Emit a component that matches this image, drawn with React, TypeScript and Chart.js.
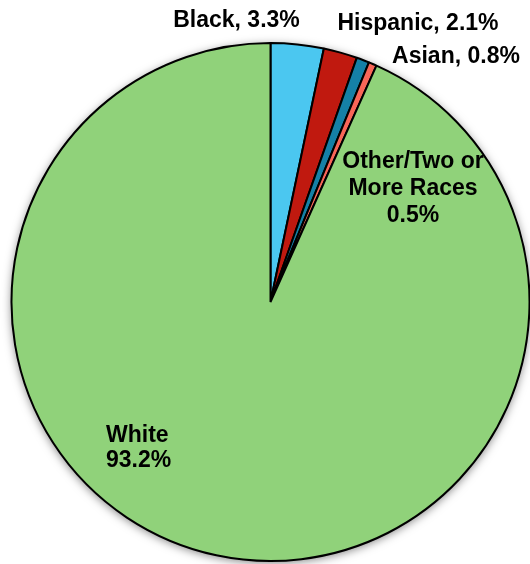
import React, { useEffect, useRef } from "react";
import { Chart, registerables } from "chart.js";

Chart.register(...registerables);

const categories = ["Black", "Hispanic", "Asian", "Other/Two or More Races", "White"];
const values = [3.3, 2.1, 0.8, 0.5, 93.2];
const labelLines = [
  ["Black, 3.3%"],
  ["Hispanic, 2.1%"],
  ["Asian, 0.8%"],
  ["Other/Two or", "More Races", "0.5%"],
  ["White", "93.2%"],
];
const colors = ["#4BC7F0", "#C0190F", "#1580A6", "#F86658", "#90D27A"];

// label placement relative to pie centre (layout only)
const labelPlacement = [
  { dx: -34, dy: -275, align: "center", lh: 27 },
  { dx: 147.5, dy: -272, align: "center", lh: 27 },
  { dx: 185.5, dy: -238.7, align: "center", lh: 27 },
  { dx: 142.5, dy: -134, align: "center", lh: 27 },
  { dx: -164.5, dy: 140, align: "left", lh: 25 },
];

const shadowPlugin = {
  id: "pieShadow",
  beforeDatasetsDraw(chart: any) {
    const meta = chart.getDatasetMeta(0);
    const arc = meta.data[0];
    if (!arc) return;
    const ctx = chart.ctx;
    ctx.save();
    ctx.beginPath();
    ctx.arc(arc.x, arc.y, arc.outerRadius, 0, Math.PI * 2);
    ctx.fillStyle = "#ffffff";
    ctx.shadowColor = "rgba(0,0,0,0.5)";
    ctx.shadowBlur = 10;
    ctx.shadowOffsetX = 0;
    ctx.shadowOffsetY = 2;
    ctx.fill();
    ctx.restore();
  },
};

const labelPlugin = {
  id: "pieLabels",
  afterDatasetsDraw(chart: any) {
    const meta = chart.getDatasetMeta(0);
    const arc = meta.data[0];
    if (!arc) return;
    const cx = arc.x;
    const cy = arc.y;
    const ctx = chart.ctx;
    ctx.save();
    ctx.fillStyle = "#000000";
    ctx.font = 'bold 23px "Liberation Sans", Arial, sans-serif';
    ctx.textBaseline = "alphabetic";
    labelLines.forEach((lines, i) => {
      const p = labelPlacement[i];
      ctx.textAlign = p.align;
      lines.forEach((line, j) => {
        ctx.fillText(line, cx + p.dx, cy + p.dy + j * p.lh);
      });
    });
    ctx.restore();
  },
};

export default function App() {
  const ref = useRef<HTMLCanvasElement | null>(null);

  useEffect(() => {
    if (!ref.current) return;
    const chart = new Chart(ref.current, {
      type: "pie",
      data: {
        labels: categories,
        datasets: [
          {
            data: values,
            backgroundColor: colors,
            borderColor: "#000000",
            borderWidth: 2,
            radius: 259,
          },
        ],
      },
      options: {
        responsive: false,
        animation: false,
        devicePixelRatio: 1,
        layout: { padding: { left: 11, right: 0, top: 40, bottom: 0 } },
        plugins: {
          legend: { display: false },
          tooltip: { enabled: false },
        },
      },
      plugins: [shadowPlugin, labelPlugin],
    });
    return () => chart.destroy();
  }, []);

  return (
    <div style={{ position: "fixed", left: 0, top: 0, width: 530, height: 564, background: "#fff" }}>
      <canvas ref={ref} width={530} height={564} style={{ display: "block" }} />
    </div>
  );
}
